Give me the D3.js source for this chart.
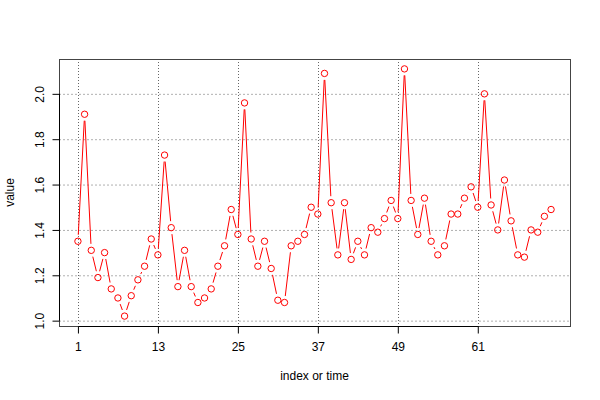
<!DOCTYPE html>
<html><head><meta charset="utf-8">
<script src="https://cdn.jsdelivr.net/npm/d3@7"></script>
<style>body{margin:0;background:#fff}svg{display:block}text{font-family:"Liberation Sans",Arial,sans-serif;font-size:12px;fill:#000}</style>
</head><body><svg id="c" width="600" height="400"></svg>
<script>
const values = [1.35,1.91,1.31,1.19,1.30,1.14,1.10,1.02,1.11,1.18,1.24,1.36,1.29,1.73,1.41,1.15,1.31,1.15,1.08,1.10,1.14,1.24,1.33,1.49,1.38,1.96,1.36,1.24,1.35,1.23,1.09,1.08,1.33,1.35,1.38,1.50,1.47,2.09,1.52,1.29,1.52,1.27,1.35,1.29,1.41,1.39,1.45,1.53,1.45,2.11,1.53,1.38,1.54,1.35,1.29,1.33,1.47,1.47,1.54,1.59,1.50,2.00,1.51,1.40,1.62,1.44,1.29,1.28,1.40,1.39,1.46,1.49];
const xTicks = [1,13,25,37,49,61];
const yTicks = [1.0,1.2,1.4,1.6,1.8,2.0];
const xLabel = "index or time";
const yLabel = "value";

const L=59,R=570,T=59,B=326;
const svg=d3.select("#c");
const n=values.length;
const xr=(n-1)*0.04;
const x=d3.scaleLinear().domain([1-xr,n+xr]).range([L,R]);
const ymin=d3.min(values), ymax=d3.max(values), yr=(ymax-ymin)*0.04;
const y=d3.scaleLinear().domain([ymin-yr,ymax+yr]).range([B,T]);

// grid
svg.append("g").selectAll("line").data(yTicks).join("line")
  .attr("x1",L).attr("x2",R).attr("y1",d=>y(d)+0.5).attr("y2",d=>y(d)+0.5)
  .attr("stroke","#b0b0b0").attr("stroke-dasharray","2,2");
svg.append("g").selectAll("line").data(xTicks).join("line")
  .attr("x1",d=>Math.round(x(d))+0.5).attr("x2",d=>Math.round(x(d))+0.5).attr("y1",T).attr("y2",B)
  .attr("stroke","#666").attr("stroke-dasharray","1,2");

// lines with gaps (type="b")
const pts=values.map((v,i)=>[x(i+1),y(v)]);
const gap=6.5;
const segs=[];
for(let i=0;i<n-1;i++){
  const [x1,y1]=pts[i],[x2,y2]=pts[i+1];
  const dx=x2-x1,dy=y2-y1,len=Math.hypot(dx,dy);
  if(len>2*gap){
    const ux=dx/len,uy=dy/len;
    segs.push([x1+ux*gap,y1+uy*gap,x2-ux*gap,y2-uy*gap]);
  }
}
svg.append("g").selectAll("line").data(segs).join("line")
  .attr("x1",d=>d[0]).attr("y1",d=>d[1]).attr("x2",d=>d[2]).attr("y2",d=>d[3])
  .attr("stroke","#ff0000").attr("stroke-width",1);
svg.append("g").selectAll("circle").data(values).join("circle")
  .attr("cx",(d,i)=>x(i+1)).attr("cy",d=>y(d)).attr("r",3.2)
  .attr("fill","none").attr("stroke","#ff0000").attr("stroke-width",1);

// box
svg.append("rect").attr("x",L+0.5).attr("y",T+0.5).attr("width",R-L).attr("height",B-T)
  .attr("fill","none").attr("stroke","#444");

// x axis
const xa=svg.append("g").attr("transform",`translate(0,${B+0.5})`)
  .call(d3.axisBottom(x).tickValues(xTicks).tickSize(7).tickPadding(9).tickFormat(d3.format("d")));
xa.select(".domain").attr("d",`M${Math.round(x(xTicks[0]))+0.5},0H${Math.round(x(xTicks[xTicks.length-1]))+0.5}`).attr("stroke","#000");
xa.selectAll("text").attr("font-size",12).attr("font-family","Liberation Sans, Arial, sans-serif");

// y axis
const ya=svg.append("g").attr("transform",`translate(${L+0.5},0)`)
  .call(d3.axisLeft(y).tickValues(yTicks).tickSize(7).tickFormat(d3.format(".1f")));
ya.select(".domain").attr("d",`M0,${y(yTicks[0])}V${y(yTicks[yTicks.length-1])}`).attr("stroke","#000");
ya.selectAll("text").attr("font-size",12).attr("font-family","Liberation Sans, Arial, sans-serif")
  .attr("x",0).attr("dy",null).attr("text-anchor","middle")
  .attr("transform","translate(-16,0) rotate(-90)");

svg.append("text").attr("x",(L+R)/2).attr("y",380).attr("text-anchor","middle").text(xLabel);
svg.append("text").attr("transform",`translate(14,${(T+B)/2}) rotate(-90)`).attr("text-anchor","middle").text(yLabel);
</script></body></html>
